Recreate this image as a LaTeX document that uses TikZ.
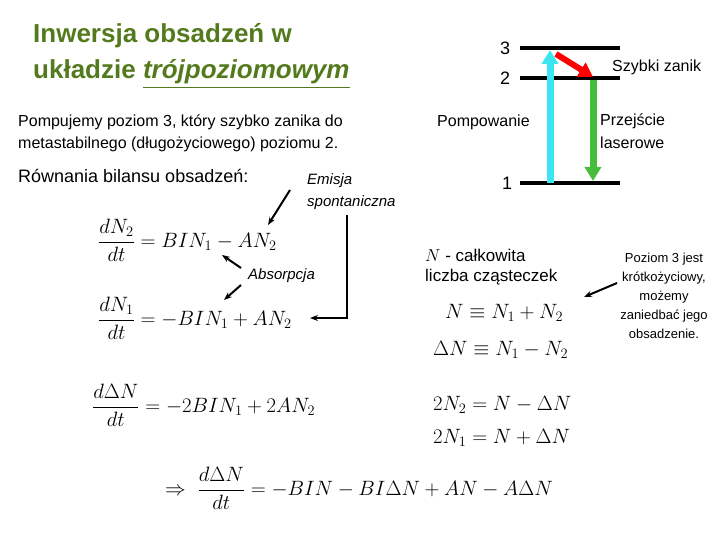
\documentclass[tikz,border=0pt]{standalone}
\usepackage{amsmath}
\usepackage{fontspec}
\setmainfont{Liberation Sans}
\usepackage{tikz}
\usetikzlibrary{arrows.meta}
\definecolor{titlegreen}{RGB}{84,122,30}
\definecolor{pumpcyan}{RGB}{60,230,240}
\definecolor{laser}{RGB}{70,190,60}
\tikzset{
    txt/.style={anchor=west,inner sep=0pt,font=\fontsize{16}{20}\selectfont},
    note/.style={anchor=west,inner sep=0pt,font=\fontsize{15}{19}\selectfont\itshape},
    eq/.style={anchor=west,inner sep=0pt,font=\fontsize{21.5}{26}\selectfont},
    level/.style={line width=4pt},
    pointer/.style={-{Stealth[length=8pt,width=6pt]},line width=2pt},
    fat/.style={-{Triangle[length=14pt,width=16pt]},line width=7pt}
}
\begin{document}
\begin{tikzpicture}[x=1pt,y=-1pt]
\useasboundingbox (0,0) rectangle (720,540);
% Title
\node[anchor=west,inner sep=0pt,text=titlegreen,font=\fontsize{26}{30}\selectfont\bfseries] (title1) at (33,36) {Inwersja obsadzeń w};
\node[anchor=west,inner sep=0pt,text=titlegreen,font=\fontsize{26}{30}\selectfont\bfseries] (title2) at (33,74) {układzie \underline{\itshape trójpoziomowym}};
% Description
\node[txt] (desc1) at (18,122) {Pompujemy poziom 3, który szybko zanika do};
\node[txt] (desc2) at (18,144) {metastabilnego (długożyciowego) poziomu 2.};
\node[txt,font=\fontsize{18}{22}\selectfont] (bilans) at (18,176) {Równania bilansu obsadzeń:};
% Equations
\node[eq] (eqa) at (98,240) {$\dfrac{dN_2}{dt}=BIN_1-AN_2$};
\node[eq] (eqb) at (98,318) {$\dfrac{dN_1}{dt}=-BIN_1+AN_2$};
\node[eq] (eqc) at (92,405) {$\dfrac{d\Delta N}{dt}=-2BIN_1+2AN_2$};
\node[eq] (eqd) at (165,488) {$\Rightarrow\ \dfrac{d\Delta N}{dt}=-BIN-BI\Delta N+AN-A\Delta N$};
% Notes
\node[note] (emis1) at (307,181) {Emisja};
\node[note] (emis2) at (307,203) {spontaniczna};
\node[note] (absorp) at (248,276) {Absorpcja};
\coordinate (emisTail) at (290,190);
\coordinate (emisHead) at (268,225);
\draw[pointer] (emisTail) -- (emisHead);
\coordinate (spontTop) at (347,215);
\coordinate (spontHead) at (310,318);
\draw[pointer] (spontTop) |- (spontHead);
\coordinate (absA) at (241,268);
\coordinate (absB) at (241,285);
\coordinate (absAhead) at (222,255);
\coordinate (absBhead) at (224,300);
\draw[pointer] (absA) -- (absAhead);
\draw[pointer] (absB) -- (absBhead);
% Right column
\node[anchor=west,inner sep=0pt,font=\fontsize{17}{21}\selectfont] (tot1) at (425,255) {$N$ - całkowita};
\node[anchor=west,inner sep=0pt,font=\fontsize{17}{21}\selectfont] (tot2) at (425,277) {liczba cząsteczek};
\node[eq] (sum) at (445,313) {$N\equiv N_1+N_2$};
\node[eq] (diff) at (433,350) {$\Delta N\equiv N_1-N_2$};
\node[eq] (twoa) at (433,405) {$2N_2=N-\Delta N$};
\node[eq] (twob) at (433,438) {$2N_1=N+\Delta N$};
% Energy levels
\coordinate (l3a) at (520,48);  \coordinate (l3b) at (620,48);
\coordinate (l2a) at (520,78);  \coordinate (l2b) at (620,78);
\coordinate (l1a) at (520,183); \coordinate (l1b) at (620,183);
\draw[level] (l3a) -- (l3b);
\draw[level] (l2a) -- (l2b);
\draw[level] (l1a) -- (l1b);
\node[txt,font=\fontsize{18}{22}\selectfont] (lab3) at (500,48) {3};
\node[txt,font=\fontsize{18}{22}\selectfont] (lab2) at (500,78) {2};
\node[txt,font=\fontsize{18}{22}\selectfont] (lab1) at (502,183) {1};
\coordinate (pumpA) at (550,183); \coordinate (pumpB) at (550,50);
\coordinate (decA) at (556,54);   \coordinate (decB) at (593,77);
\coordinate (lasA) at (593,80);   \coordinate (lasB) at (593,181);
\draw[fat,pumpcyan] (pumpA) -- (pumpB);
\draw[fat,red,line width=6pt] (decA) -- (decB);
\draw[fat,laser] (lasA) -- (lasB);
\node[txt] (fast) at (612,67) {Szybki zanik};
\node[txt] (pump) at (437,122) {Pompowanie};
\node[txt] (las1) at (600,121) {Przejście};
\node[txt] (las2) at (600,143) {laserowe};
% Side remark
\node[align=center,inner sep=0pt,font=\fontsize{13}{19}\selectfont] (remark) at (664,296)
  {Poziom 3 jest\\krótkożyciowy,\\możemy\\zaniedbać jego\\obsadzenie.};
\coordinate (remTail) at (617,283);
\coordinate (remHead) at (584,297);
\draw[pointer] (remTail) -- (remHead);
\end{tikzpicture}
\end{document}
